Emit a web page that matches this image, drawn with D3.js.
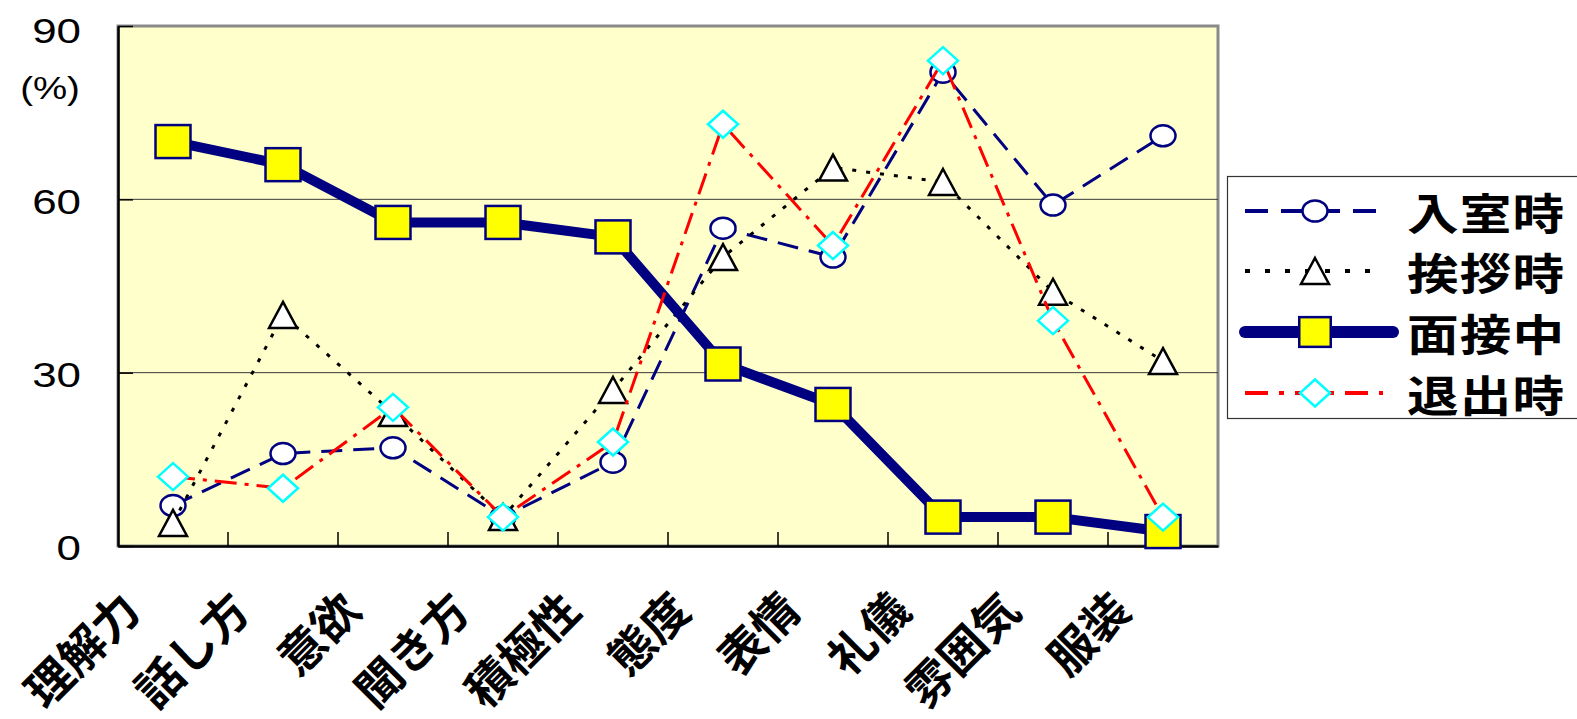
<!DOCTYPE html>
<html>
<head>
<meta charset="utf-8">
<script src="https://cdn.jsdelivr.net/npm/d3@7"></script>
<style>
  html, body { margin: 0; padding: 0; background: #ffffff; }
  svg { display: block; }
</style>
</head>
<body>
<svg id="chart" width="1577" height="719"></svg>
<script>
// Evaluation items (x categories)
const categories = ["理解力", "話し方", "意欲", "聞き方", "積極性", "態度", "表情", "礼儀", "雰囲気", "服装"];

// Percentages per stage of the interview
const entering = [7, 16, 17, 5, 14.5, 55, 50, 82, 59, 71];     // 入室時
const greeting = [4, 40, 23, 5, 27, 50, 65.5, 63, 44, 32];      // 挨拶時
const interview = [70, 66, 56, 56, 53.5, 31.5, 24.5, 5, 5, 2.5]; // 面接中
const leaving = [12, 10, 24, 5, 18, 73, 52, 84, 39, 5];         // 退出時

const seriesNames = ["入室時", "挨拶時", "面接中", "退出時"];
const yTicks = [0, 30, 60, 90];

const series = [
  { name: seriesNames[0], values: entering, color: "#000080", width: 3, dash: "21,11", marker: "circle" },
  { name: seriesNames[1], values: greeting, color: "#000000", width: 3, dash: "4,10", marker: "triangle" },
  { name: seriesNames[2], values: interview, color: "#000080", width: 10, dash: null, marker: "square" },
  { name: seriesNames[3], values: leaving, color: "#ff0000", width: 3, dash: "22,8,4,8", marker: "diamond" }
];

const svg = d3.select("#chart");
const plot = { left: 118, top: 26, right: 1218, bottom: 546 };

const x = d3.scaleBand().domain(categories).range([plot.left, plot.right]).paddingInner(0).paddingOuter(0);
const y = d3.scaleLinear().domain([0, 90]).range([plot.bottom, plot.top]);

// plot background and frame
svg.append("rect")
  .attr("x", plot.left).attr("y", plot.top)
  .attr("width", plot.right - plot.left).attr("height", plot.bottom - plot.top)
  .attr("fill", "#ffffcc").attr("stroke", "#8a8a8a").attr("stroke-width", 3);

// horizontal gridlines
svg.append("g").selectAll("line")
  .data(yTicks.filter(d => d > 0 && d < 90))
  .join("line")
  .attr("x1", plot.left).attr("x2", plot.right)
  .attr("y1", d => y(d)).attr("y2", d => y(d))
  .attr("stroke", "#3a3a3a").attr("stroke-width", 1);

// y axis (ticks point inward)
const yAxis = svg.append("g")
  .attr("transform", `translate(${plot.left},0)`)
  .call(d3.axisLeft(y).tickValues(yTicks).tickSizeInner(-15).tickSizeOuter(0).tickPadding(0));
yAxis.select(".domain").attr("stroke", "#000").attr("stroke-width", 2.5);
yAxis.selectAll(".tick line").attr("stroke", "#000").attr("stroke-width", 1.5);
yAxis.selectAll(".tick text")
  .attr("x", -37 / 1.22)
  .attr("y", d => d === 90 ? 4 : 1)
  .attr("dy", "0.36em")
  .attr("transform", "scale(1.22,1)")
  .attr("font-family", "'Liberation Sans', Arial, sans-serif")
  .attr("font-size", 36)
  .attr("fill", "#000");

// unit label
svg.append("text")
  .attr("transform", "translate(50,88) scale(1.2,1)")
  .attr("text-anchor", "middle")
  .attr("dominant-baseline", "central")
  .attr("font-family", "'Liberation Sans', Arial, sans-serif")
  .attr("font-size", 32)
  .text("(%)");

// x axis: tick marks at category boundaries, pointing up into the plot
const xAxis = svg.append("g")
  .attr("transform", `translate(0,${plot.bottom})`)
  .call(d3.axisBottom(x).tickSize(0).tickFormat(""));
xAxis.select(".domain").attr("stroke", "#000").attr("stroke-width", 2.5);
svg.append("g").selectAll("line")
  .data(categories.slice(1))
  .join("line")
  .attr("x1", d => x(d)).attr("x2", d => x(d))
  .attr("y1", plot.bottom).attr("y2", plot.bottom - 14)
  .attr("stroke", "#000").attr("stroke-width", 1.5);

// rotated category labels
svg.append("g").selectAll("text")
  .data(categories)
  .join("text")
  .attr("transform", d => `translate(${x(d) + x.bandwidth() / 2 - 44},599) rotate(-45)`)
  .attr("text-anchor", "end")
  .attr("dominant-baseline", "central")
  .attr("font-family", "'Noto Sans CJK JP', sans-serif")
  .attr("font-weight", 700)
  .attr("font-size", 46)
  .text(d => d);

// marker drawing
function drawMarker(g, type, cx, cy, scale) {
  const s = scale || 1;
  if (type === "circle") {
    g.append("ellipse").attr("cx", cx).attr("cy", cy).attr("rx", 12.5 * s).attr("ry", 10.5 * s)
      .attr("fill", "#fff").attr("stroke", "#000080").attr("stroke-width", 2.5);
  } else if (type === "triangle") {
    const w = 14 * s, h = 13 * s;
    g.append("path").attr("d", `M${cx},${cy - h}L${cx + w},${cy + h}L${cx - w},${cy + h}Z`)
      .attr("fill", "#fff").attr("stroke", "#000").attr("stroke-width", 2.5).attr("stroke-linejoin", "miter");
  } else if (type === "square") {
    const w = 17.5 * s, h = 16.5 * s;
    g.append("rect").attr("x", cx - w).attr("y", cy - h).attr("width", 2 * w).attr("height", 2 * h)
      .attr("fill", "#ffff00").attr("stroke", "#000080").attr("stroke-width", 2.5);
  } else if (type === "diamond") {
    const w = 15 * s, h = 13.5 * s;
    g.append("path").attr("d", `M${cx},${cy - h}L${cx + w},${cy}L${cx},${cy + h}L${cx - w},${cy}Z`)
      .attr("fill", "#fff").attr("stroke", "#00ffff").attr("stroke-width", 2.5);
  }
}

const line = d3.line()
  .x((d, i) => x(categories[i]) + x.bandwidth() / 2)
  .y(d => y(d));

series.forEach(s => {
  const g = svg.append("g");
  g.append("path")
    .attr("d", line(s.values))
    .attr("fill", "none")
    .attr("stroke", s.color)
    .attr("stroke-width", s.width)
    .attr("stroke-dasharray", s.dash)
    .attr("stroke-linejoin", "round");
  s.values.forEach((v, i) => drawMarker(g, s.marker, x(categories[i]) + x.bandwidth() / 2, y(v)));
});

// legend
const legend = svg.append("g");
legend.append("rect")
  .attr("x", 1227.5).attr("y", 176.5).attr("width", 380).attr("height", 242)
  .attr("fill", "#fff").attr("stroke", "#333").attr("stroke-width", 1.2);
const rowY = [211, 271, 332, 393];
series.forEach((s, i) => {
  const ly = rowY[i];
  legend.append("line")
    .attr("x1", 1245).attr("x2", s.marker === "square" ? 1393 : 1383)
    .attr("y1", ly).attr("y2", ly)
    .attr("stroke", s.color)
    .attr("stroke-width", s.marker === "square" ? 12 : 4)
    .attr("stroke-linecap", s.marker === "square" ? "round" : "butt")
    .attr("stroke-dasharray", s.marker === "square" ? null :
      (s.marker === "circle" ? "23,13" : s.marker === "triangle" ? "5,15" : "23,11,5,11"));
  drawMarker(legend, s.marker, 1315, ly, s.marker === "square" ? 0.9 : 1.0);
  legend.append("text")
    .attr("transform", `translate(1407,${ly}) scale(1.2,1)`)
    .attr("dominant-baseline", "central")
    .attr("font-family", "'Noto Sans CJK JP', sans-serif")
    .attr("font-weight", 700)
    .attr("font-size", 43)
    .attr("letter-spacing", 1)
    .text(s.name);
});
</script>
</body>
</html>
